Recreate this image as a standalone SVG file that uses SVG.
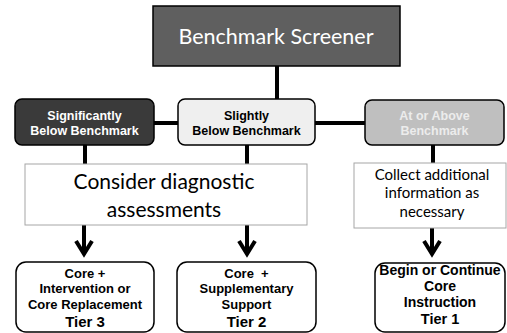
<svg xmlns="http://www.w3.org/2000/svg" width="507" height="333" viewBox="0 0 507 333">
<style>
.cal{font-family:Lato,"Open Sans",sans-serif;text-anchor:middle}
.b{font-family:"Liberation Sans",Arial,sans-serif;font-weight:bold;text-anchor:middle}
.conn{stroke:#000;stroke-width:4;fill:none}
.arr{stroke:#000;stroke-width:4;fill:none;stroke-linejoin:miter}
.lvl{stroke:#000;stroke-width:1.5}
.note{fill:#fff;stroke:#a6a6a6;stroke-width:1}
.out{fill:#fff;stroke:#000;stroke-width:1.5}
</style>
<rect width="507" height="333" fill="#fff"/>
<g id="connectors">
<line class="conn" x1="277" y1="66" x2="277" y2="100"/>
<line class="conn" x1="154" y1="123" x2="178" y2="123"/>
<line class="conn" x1="315" y1="123" x2="365" y2="123"/>
<line class="conn" x1="85" y1="145" x2="85" y2="164"/>
<line class="conn" x1="247" y1="145" x2="247" y2="164"/>
<line class="conn" x1="433" y1="145" x2="433" y2="163"/>
<path class="arr" d="M84 225V254M76 241L84 254L92 241"/>
<path class="arr" d="M247 225V254M239 241L247 254L255 241"/>
<path class="arr" d="M432 228V254M424 241L432 254L440 241"/>
</g>
<g id="screener">
<rect x="153" y="6" width="247" height="60" fill="#5f5f5f" stroke="#000" stroke-width="1.5"/>
<text class="cal" x="276" y="44" font-size="21.5" fill="#fff">Benchmark Screener</text>
</g>
<g id="sig-below">
<rect class="lvl" x="15" y="99" width="139" height="46" rx="7" fill="#3a3a3a"/>
<text class="b" x="84.5" y="120" font-size="12.5" fill="#fff">Significantly</text>
<text class="b" x="84.5" y="135" font-size="12.5" fill="#fff">Below Benchmark</text>
</g>
<g id="slight-below">
<rect class="lvl" x="178" y="99" width="137" height="46" rx="7" fill="#efefef"/>
<text class="b" x="246.5" y="120" font-size="12.5" fill="#000">Slightly</text>
<text class="b" x="246.5" y="135" font-size="12.5" fill="#000">Below Benchmark</text>
</g>
<g id="above">
<rect class="lvl" x="365" y="100" width="139" height="45" rx="7" fill="#bfbfbf"/>
<text class="b" x="434.5" y="120" font-size="12.5" fill="#ececec">At or Above</text>
<text class="b" x="434.5" y="135" font-size="12.5" fill="#ececec">Benchmark</text>
</g>
<g id="diagnostic">
<rect class="note" x="25" y="164" width="282" height="61"/>
<text class="cal" x="164" y="189" font-size="21" fill="#000">Consider diagnostic</text>
<text class="cal" x="164" y="217" font-size="21" fill="#000">assessments</text>
</g>
<g id="collect">
<rect class="note" x="354" y="163" width="152" height="65"/>
<text class="cal" x="432" y="180" font-size="15" fill="#000">Collect additional</text>
<text class="cal" x="432" y="198" font-size="15" fill="#000">information as</text>
<text class="cal" x="432" y="217" font-size="15" fill="#000">necessary</text>
</g>
<g id="tier3">
<rect class="out" x="16" y="262" width="138" height="70" rx="10"/>
<text class="b" x="85" y="278" font-size="13">Core +</text>
<text class="b" x="85" y="293" font-size="13">Intervention or</text>
<text class="b" x="85" y="309" font-size="13">Core Replacement</text>
<text class="b" x="85" y="327" font-size="15">Tier 3</text>
</g>
<g id="tier2">
<rect class="out" x="177" y="262" width="139" height="70" rx="10"/>
<text class="b" x="246.5" y="278" font-size="13" xml:space="preserve">Core  +</text>
<text class="b" x="246.5" y="293" font-size="13">Supplementary</text>
<text class="b" x="246.5" y="309" font-size="13">Support</text>
<text class="b" x="246.5" y="327" font-size="15">Tier 2</text>
</g>
<g id="tier1">
<rect class="out" x="375" y="263" width="130" height="69" rx="10"/>
<text class="b" x="440" y="275" font-size="14">Begin or Continue</text>
<text class="b" x="440" y="291" font-size="14">Core</text>
<text class="b" x="440" y="307" font-size="14">Instruction</text>
<text class="b" x="440" y="324" font-size="14.5">Tier 1</text>
</g>
</svg>
